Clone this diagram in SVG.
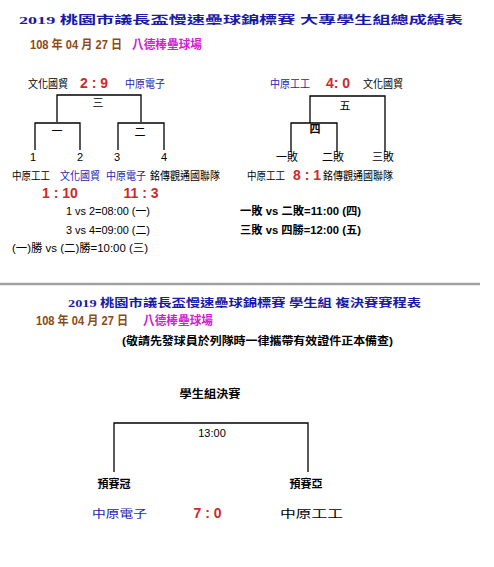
<svg xmlns="http://www.w3.org/2000/svg" width="494" height="567" viewBox="0 0 494 567">
<style>
text{font-family:"Liberation Sans","Noto Sans CJK TC",sans-serif;font-size:11px;fill:#000;dominant-baseline:central}
.c{text-anchor:middle}
.t{font-family:"Liberation Serif","Noto Sans CJK TC",serif;font-weight:bold;fill:#1a1aa6}
.br{fill:#8b4a16;font-weight:bold;font-size:12px}
.mg{fill:#d020d0;font-weight:bold;font-size:12px}
.bl{fill:#1c1cb0}
.rd{fill:#cc2a2a;font-weight:bold;font-size:14px}
.b{font-weight:bold}
.ln{stroke:#000;stroke-width:1.3;fill:none}
</style>
<rect width="494" height="567" fill="#fff"/>
<g id="header">
<text class="t" x="19" y="20" font-size="17" textLength="444" lengthAdjust="spacingAndGlyphs">2019 桃園市議長盃慢速壘球錦標賽 大專學生組總成績表</text>
<text class="br" x="30" y="45" textLength="92" lengthAdjust="spacingAndGlyphs">108 年 04 月 27 日</text>
<text class="mg" x="132" y="45" textLength="70" lengthAdjust="spacingAndGlyphs">八德棒壘球場</text>
</g>
<g id="connectors">
<path class="ln" d="M57,122V95H141V122"/>
<path class="ln" d="M35,150V123H80V150"/>
<path class="ln" d="M118,150V123H164V150"/>
<path class="ln" d="M310,123V96H385V152"/>
<path class="ln" d="M291,152V123H337V152"/>
<path d="M0,284H480" stroke="#a0a0a0" stroke-width="2.5"/>
<path class="ln" d="M114,472V423H308V472"/>
</g>
<g id="game3">
<text class="c" x="48" y="84" textLength="40" lengthAdjust="spacingAndGlyphs">文化國貿</text>
<text class="c rd" x="94" y="83">2 : 9</text>
<text class="c bl" x="145" y="84" textLength="40" lengthAdjust="spacingAndGlyphs">中原電子</text>
<text class="c" x="98" y="103">三</text>
</g>
<g id="game1">
<text class="c" x="57" y="131">一</text>
<text class="c" x="33" y="157" font-size="12">1</text>
<text class="c" x="80" y="157" font-size="12">2</text>
<text class="c" x="31" y="176" textLength="38" lengthAdjust="spacingAndGlyphs">中原工工</text>
<text class="c bl" x="80" y="176" textLength="40" lengthAdjust="spacingAndGlyphs">文化國貿</text>
<text class="c rd" x="60" y="193">1 : 10</text>
</g>
<g id="game2">
<text class="c" x="140" y="132">二</text>
<text class="c" x="117" y="157" font-size="12">3</text>
<text class="c" x="164" y="157" font-size="12">4</text>
<text class="c bl" x="126" y="176" textLength="40" lengthAdjust="spacingAndGlyphs">中原電子</text>
<text class="c" x="185" y="176" textLength="70" lengthAdjust="spacingAndGlyphs">銘傳觀通國聯隊</text>
<text class="c rd" x="141" y="193">11 : 3</text>
</g>
<g id="schedule-left">
<text x="66" y="211" font-size="12" textLength="84" lengthAdjust="spacingAndGlyphs">1 vs 2=08:00 (一)</text>
<text x="66" y="230" font-size="12" textLength="84" lengthAdjust="spacingAndGlyphs">3 vs 4=09:00 (二)</text>
<text x="12" y="248" font-size="12" textLength="136" lengthAdjust="spacingAndGlyphs">(一)勝 vs (二)勝=10:00 (三)</text>
</g>
<g id="game5">
<text class="c bl" x="290" y="84" textLength="40" lengthAdjust="spacingAndGlyphs">中原工工</text>
<text class="c rd" x="338" y="83">4: 0</text>
<text class="c" x="383" y="84" textLength="40" lengthAdjust="spacingAndGlyphs">文化國貿</text>
<text class="c" x="345" y="106">五</text>
<text class="c" x="383" y="157">三敗</text>
</g>
<g id="game4">
<text class="c b" x="315" y="129">四</text>
<text class="c" x="287" y="157">一敗</text>
<text class="c" x="333" y="157">二敗</text>
<text class="c" x="266" y="176" textLength="38" lengthAdjust="spacingAndGlyphs">中原工工</text>
<text class="c rd" x="307" y="175">8 : 1</text>
<text class="c" x="358" y="176" textLength="70" lengthAdjust="spacingAndGlyphs">銘傳觀通國聯隊</text>
</g>
<g id="schedule-right">
<text class="b" x="240" y="211" font-size="12" textLength="121" lengthAdjust="spacingAndGlyphs">一敗 vs 二敗=11:00 (四)</text>
<text class="b" x="240" y="230" font-size="12" textLength="121" lengthAdjust="spacingAndGlyphs">三敗 vs 四勝=12:00 (五)</text>
</g>
<g id="header2">
<text class="t" x="68" y="303" font-size="14" textLength="353" lengthAdjust="spacingAndGlyphs">2019 桃園市議長盃慢速壘球錦標賽 學生組 複決賽賽程表</text>
<text class="br" x="36" y="321" textLength="92" lengthAdjust="spacingAndGlyphs">108 年 04 月 27 日</text>
<text class="mg" x="143" y="321" textLength="70" lengthAdjust="spacingAndGlyphs">八德棒壘球場</text>
<text class="b" x="122" y="341" font-size="12" textLength="271" lengthAdjust="spacingAndGlyphs">(敬請先發球員於列隊時一律攜帶有效證件正本備查)</text>
</g>
<g id="final">
<text class="c b" x="210" y="394" font-size="12" textLength="61" lengthAdjust="spacingAndGlyphs">學生組決賽</text>
<text class="c" x="212" y="433">13:00</text>
<text class="c b" x="114" y="484" font-size="12">預賽冠</text>
<text class="c b" x="306" y="484" font-size="12">預賽亞</text>
<text class="c bl" x="119.5" y="514" font-size="14" textLength="55" lengthAdjust="spacingAndGlyphs">中原電子</text>
<text class="c rd" x="207.5" y="513" font-size="13">7 : 0</text>
<text class="c" x="311.5" y="514" font-size="16" textLength="63" lengthAdjust="spacingAndGlyphs">中原工工</text>
</g>
</svg>
